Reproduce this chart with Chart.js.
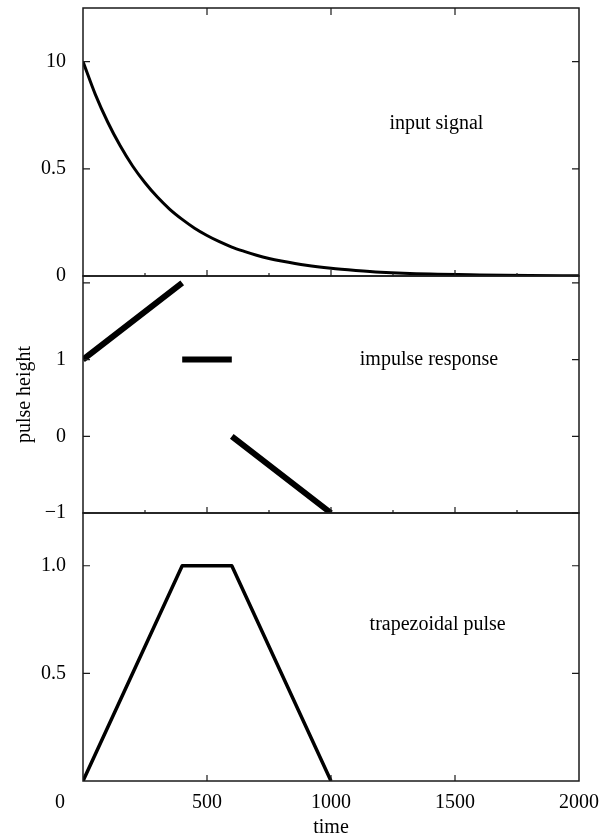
<!DOCTYPE html>
<html>
<head>
<meta charset="utf-8">
<script src="https://cdn.jsdelivr.net/npm/chart.js@4"></script>
<style>
  body { margin: 0; background: #fff; }
  #wrap { position: relative; width: 608px; height: 840px; }
  #wrap canvas { position: absolute; left: 0; }
</style>
</head>
<body>
<div id="wrap">
  <canvas id="c1" width="608" height="300" style="top:0px"></canvas>
  <canvas id="c2" width="608" height="277" style="top:256px"></canvas>
  <canvas id="c3" width="608" height="347" style="top:493px"></canvas>
</div>
<script>
// shared time axis
const timeTicks = [0, 500, 1000, 1500, 2000];
const timeMinorTicks = [250, 750, 1250, 1750];

// input signal (decaying)
const inputTime = [0, 50, 100, 150, 200, 250, 300, 350, 400, 450, 500, 550, 600, 650, 700, 750, 800, 900, 1000, 1100, 1200, 1400, 1600, 1800, 2000];
const inputValue = [1.0, 0.846, 0.717, 0.607, 0.513, 0.435, 0.368, 0.311, 0.264, 0.223, 0.189, 0.16, 0.135, 0.115, 0.097, 0.082, 0.07, 0.05, 0.036, 0.026, 0.018, 0.009, 0.005, 0.0025, 0.001];
const inputTicks = [0, 0.5, 1];
const inputTickLabels = ['0', '0.5', '10'];

// impulse response, null = break in the line
const impulseTime = [0, 400, 400, 400, 600, 600, 600, 1000];
const impulseValue = [1, 2, null, 1, 1, null, 0, -1];
const impulseTicks = [-1, 0, 1, 2];
const impulseTickLabels = ['\u22121', '0', '1', ''];

// trapezoidal pulse
const trapTime = [0, 400, 600, 1000];
const trapValue = [0, 1, 1, 0];
const trapTicks = [0.5, 1];
const trapTickLabels = ['0.5', '1.0'];

const FONT = '"Liberation Serif", "Times New Roman", serif';

function toPoints(xs, ys) {
    return xs.map((x, i) => ({ x: x, y: ys[i] }));
}

// box around each panel + inward tick marks + panel note
const framePlugin = {
    id: 'frame',
    afterDraw(chart, args, opts) {
        const { ctx, chartArea: a, scales } = chart;
        const x = scales.x, y = scales.y;
        ctx.save();
        ctx.strokeStyle = '#1a1a1a';
        ctx.lineWidth = 1.5;
        ctx.strokeRect(a.left, a.top, a.right - a.left, a.bottom - a.top);

        ctx.lineWidth = 1.2;
        ctx.beginPath();
        (opts.yTicks || []).forEach(v => {
            const py = y.getPixelForValue(v);
            ctx.moveTo(a.left, py); ctx.lineTo(a.left + 7, py);
            ctx.moveTo(a.right, py); ctx.lineTo(a.right - 7, py);
        });
        (opts.topTicks || []).forEach(v => {
            const px = x.getPixelForValue(v);
            ctx.moveTo(px, a.top); ctx.lineTo(px, a.top + 7);
        });
        (opts.bottomTicks || []).forEach(v => {
            const px = x.getPixelForValue(v);
            ctx.moveTo(px, a.bottom); ctx.lineTo(px, a.bottom - 6);
        });
        (opts.bottomMinor || []).forEach(v => {
            const px = x.getPixelForValue(v);
            ctx.moveTo(px, a.bottom); ctx.lineTo(px, a.bottom - 3);
        });
        ctx.stroke();

        ctx.fillStyle = '#000';
        ctx.font = '20px ' + FONT;
        ctx.textAlign = 'center';
        ctx.textBaseline = 'middle';
        if (opts.note) {
            ctx.fillText(opts.note.text, x.getPixelForValue(opts.note.x), y.getPixelForValue(opts.note.y));
        }
        if (opts.cornerZero) {
            ctx.fillText('0', x.getPixelForValue(0) - 23, a.bottom + 22);
        }
        ctx.restore();
    }
};

function yScale(min, max, ticks, labels, title) {
    return {
        type: 'linear',
        min: min,
        max: max,
        afterBuildTicks: scale => { scale.ticks = ticks.map(v => ({ value: v })); },
        afterFit: scale => {
            scale.width = 83;
            scale.paddingTop = 0;
            scale.paddingBottom = 0;
        },
        grid: { display: false, drawTicks: false },
        border: { display: false },
        ticks: {
            color: '#000',
            font: { family: FONT, size: 20 },
            padding: 17,
            callback: (value, index) => labels[index]
        },
        title: title ? {
            display: true,
            text: title,
            color: '#000',
            font: { family: FONT, size: 20 },
            padding: { top: 13, bottom: 0 }
        } : { display: false }
    };
}

function hiddenX() {
    return { type: 'linear', min: 0, max: 2000, display: false };
}

function lineSet(points, width, smooth) {
    return {
        data: points,
        borderColor: '#000',
        borderWidth: width,
        pointRadius: 0,
        fill: false,
        spanGaps: false,
        borderCapStyle: 'butt',
        borderJoinStyle: 'round',
        tension: 0,
        cubicInterpolationMode: smooth ? 'monotone' : 'default'
    };
}

function baseOptions(padding, scales, frame) {
    return {
        responsive: false,
        animation: false,
        layout: { padding: padding },
        scales: scales,
        plugins: {
            legend: { display: false },
            tooltip: { enabled: false },
            frame: frame
        }
    };
}

new Chart(document.getElementById('c1'), {
    type: 'line',
    data: { datasets: [lineSet(toPoints(inputTime, inputValue), 3, true)] },
    options: baseOptions(
        { top: 8, right: 29, bottom: 24, left: 0 },
        { x: hiddenX(), y: yScale(0, 1.25, inputTicks, inputTickLabels) },
        {
            yTicks: inputTicks,
            topTicks: [500, 1000, 1500],
            bottomTicks: [500, 1000, 1500],
            bottomMinor: timeMinorTicks,
            note: { text: 'input signal', x: 1425, y: 0.71 }
        }
    ),
    plugins: [framePlugin]
});

new Chart(document.getElementById('c2'), {
    type: 'line',
    data: { datasets: [lineSet(toPoints(impulseTime, impulseValue), 6, false)] },
    options: baseOptions(
        { top: 20, right: 29, bottom: 20, left: 0 },
        { x: hiddenX(), y: yScale(-1, 2.09, impulseTicks, impulseTickLabels, 'pulse height') },
        {
            yTicks: impulseTicks,
            bottomTicks: [500, 1000, 1500],
            bottomMinor: timeMinorTicks,
            note: { text: 'impulse response', x: 1395, y: 1.0 }
        }
    ),
    plugins: [framePlugin]
});

new Chart(document.getElementById('c3'), {
    type: 'line',
    data: { datasets: [lineSet(toPoints(trapTime, trapValue), 3.5, false)] },
    options: baseOptions(
        { top: 20, right: 29, bottom: 0, left: 0 },
        {
            x: {
                type: 'linear',
                min: 0,
                max: 2000,
                afterBuildTicks: scale => { scale.ticks = timeTicks.map(v => ({ value: v })); },
                afterFit: scale => {
                    scale.height = 59;
                    scale.paddingLeft = 0;
                    scale.paddingRight = 0;
                },
                grid: { display: false, drawTicks: false },
                border: { display: false },
                ticks: {
                    color: '#000',
                    font: { family: FONT, size: 20 },
                    padding: 10,
                    maxRotation: 0,
                    callback: value => (value === 0 ? '' : String(value))
                },
                title: {
                    display: true,
                    text: 'time',
                    color: '#000',
                    font: { family: FONT, size: 20 },
                    padding: { top: 0, bottom: 0 }
                }
            },
            y: yScale(0, 1.245, trapTicks, trapTickLabels)
        },
        {
            yTicks: trapTicks,
            bottomTicks: [500, 1000, 1500],
            note: { text: 'trapezoidal pulse', x: 1430, y: 0.727 },
            cornerZero: true
        }
    ),
    plugins: [framePlugin]
});
</script>
</body>
</html>
